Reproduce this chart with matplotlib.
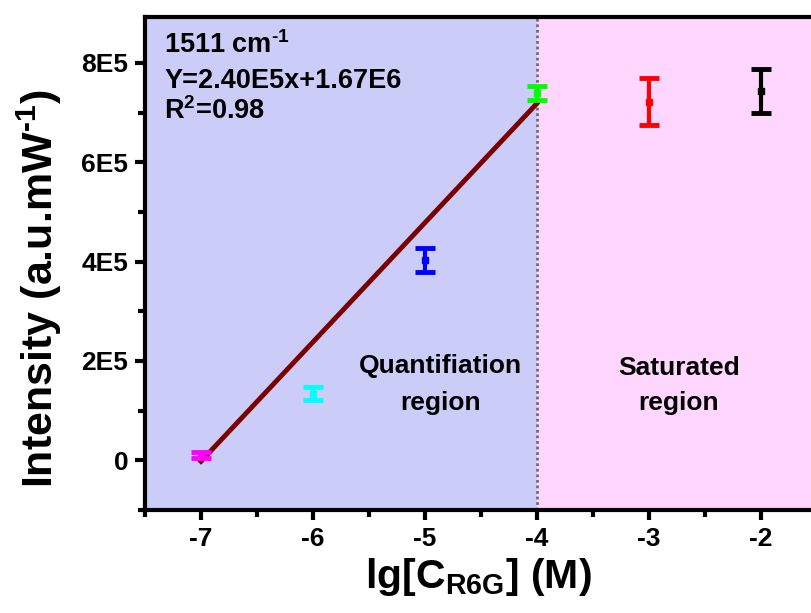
import numpy as np
import matplotlib
matplotlib.use("Agg")
import matplotlib.pyplot as plt

plt.rcParams['font.family'] = ['Liberation Sans', 'DejaVu Sans']
plt.rcParams['font.weight'] = 'bold'
plt.rcParams['axes.unicode_minus'] = False
plt.rcParams['mathtext.fontset'] = 'custom'
plt.rcParams['mathtext.rm'] = 'Liberation Sans:bold'
plt.rcParams['mathtext.it'] = 'Liberation Sans:bold'
plt.rcParams['mathtext.bf'] = 'Liberation Sans:bold'
plt.rcParams['mathtext.default'] = 'rm'

# data
lg_conc = [-7, -6, -5, -4, -3, -2]
intensity = [1.0e4, 1.34e5, 4.04e5, 7.40e5, 7.22e5, 7.44e5]
err = [0.6e4, 1.3e4, 2.4e4, 1.4e4, 4.8e4, 4.4e4]
colors = ['#ff00ff', '#00ffff', '#0000ff', '#00ff00', '#ff0000', '#000000']

# linear fit in quantification region
fit_slope = 2.40e5
fit_intercept = 1.678e6
fit_x = [-7, -4]

fig = plt.figure(figsize=(8.11, 6.13), dpi=100)
ax = fig.add_axes([0.1788, 0.168, 0.8212, 0.804])

ax.axvspan(-7.5, -4, color='#ccccf9', zorder=0)
ax.axvspan(-4, -1.55, color='#ffd6fe', zorder=0)
ax.axvline(-4, color='#707070', ls=(0, (1, 1)), lw=2, zorder=1)

fx = np.array(fit_x)
ax.plot(fx, fit_slope * fx + fit_intercept, color='#7a0000', lw=3.5, zorder=2)

for x, y, e, c in zip(lg_conc, intensity, err, colors):
    ax.errorbar(x, y, yerr=e, fmt='s', color=c, ms=4, elinewidth=3,
                capsize=7, capthick=3.5, zorder=3)

ax.text(-7.33, 8.2e5, r'1511 cm$^{\text{-1}}$', fontsize=19.5, fontweight='bold')
ax.text(-7.33, 7.5e5, 'Y=2.40E5x+1.67E6', fontsize=19.5, fontweight='bold')
ax.text(-7.33, 6.88e5, 'R$^2$=0.98', fontsize=19.5, fontweight='bold')

ax.text(-4.86, 1.9e5, 'Quantifiation', fontsize=19, fontweight='bold',
        ha='center', va='center')
ax.text(-4.86, 1.16e5, 'region', fontsize=19, fontweight='bold',
        ha='center', va='center')
ax.text(-2.73, 1.86e5, 'Saturated', fontsize=19, fontweight='bold',
        ha='center', va='center')
ax.text(-2.73, 1.16e5, 'region', fontsize=19, fontweight='bold',
        ha='center', va='center')

ax.set_xlim(-7.5, -1.55)
ax.set_ylim(-0.94e5, 8.92e5)
ax.set_xticks([-7, -6, -5, -4, -3, -2])
ax.set_xticks(np.arange(-7.5, -1.5, 0.5), minor=True)
ax.set_yticks([0, 2e5, 4e5, 6e5, 8e5])
ax.set_yticklabels(['0', '2E5', '4E5', '6E5', '8E5'])
ax.set_yticks([-1e5, 1e5, 3e5, 5e5, 7e5], minor=True)

for s in ['left', 'bottom', 'top']:
    ax.spines[s].set_linewidth(3)
ax.spines['right'].set_visible(False)
ax.tick_params(which='major', direction='out', length=7, width=3,
               labelsize=19, pad=5)
ax.tick_params(which='minor', direction='out', length=5, width=3)
for lab in ax.get_xticklabels() + ax.get_yticklabels():
    lab.set_fontweight('bold')

ax.set_xlabel('lg[C$_{R6G}$] (M)', fontsize=29.5, fontweight='bold', labelpad=4)
ax.set_ylabel(r'Intensity (a.u.mW$^{\text{-1}}$)', fontsize=31, fontweight='bold')
ax.yaxis.set_label_coords(-0.122, 0.448)

fig.savefig('out.png', dpi=100)
